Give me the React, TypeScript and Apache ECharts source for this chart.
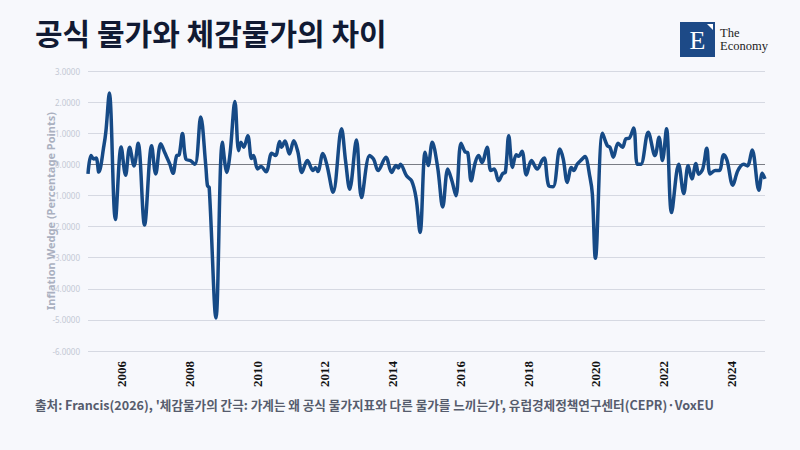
import React, { useEffect, useRef } from "react";
import * as echarts from "echarts";

const title = "공식 물가와 체감물가의 차이";
const source =
  "출처: Francis(2026), '체감물가의 간극: 가계는 왜 공식 물가지표와 다른 물가를 느끼는가', 유럽경제정책연구센터(CEPR)·VoxEU";
const yAxisName = "Inflation Wedge (Percentage Points)";

// decimal years at which the line was read
const times = [
  2005.0, 2005.09, 2005.17, 2005.24, 2005.32, 2005.47, 2005.53, 2005.63, 2005.81, 2005.98,
  2006.11, 2006.23, 2006.36, 2006.48, 2006.67, 2006.88, 2007.0, 2007.15, 2007.27, 2007.42,
  2007.51, 2007.62, 2007.69, 2007.79, 2007.89, 2008.02, 2008.16, 2008.33, 2008.48, 2008.53,
  2008.58, 2008.78, 2008.97, 2009.1, 2009.2, 2009.34, 2009.45, 2009.52, 2009.6, 2009.72,
  2009.83, 2009.89, 2010.01, 2010.11, 2010.26, 2010.43, 2010.54, 2010.66, 2010.72, 2010.82,
  2010.95, 2011.08, 2011.2, 2011.32, 2011.48, 2011.65, 2011.72, 2011.79, 2011.94, 2012.06,
  2012.24, 2012.49, 2012.61, 2012.73, 2012.93, 2013.08, 2013.32, 2013.44, 2013.57, 2013.8,
  2013.97, 2014.1, 2014.17, 2014.23, 2014.41, 2014.56, 2014.69, 2014.81, 2014.96, 2015.05,
  2015.17, 2015.33, 2015.48, 2015.63, 2015.75, 2015.87, 2016.02, 2016.14, 2016.22, 2016.32,
  2016.44, 2016.54, 2016.64, 2016.79, 2016.9, 2017.0, 2017.13, 2017.25, 2017.33, 2017.43,
  2017.54, 2017.65, 2017.72, 2017.82, 2017.95, 2018.1, 2018.27, 2018.42, 2018.48, 2018.61,
  2018.74, 2018.94, 2019.04, 2019.16, 2019.28, 2019.35, 2019.45, 2019.6, 2019.68, 2019.83,
  2019.9, 2019.99, 2020.2, 2020.34, 2020.42, 2020.52, 2020.66, 2020.79, 2020.89, 2020.99,
  2021.12, 2021.23, 2021.33, 2021.55, 2021.75, 2021.87, 2021.97, 2022.09, 2022.24, 2022.45,
  2022.6, 2022.73, 2022.84, 2022.96, 2023.04, 2023.16, 2023.28, 2023.38, 2023.53, 2023.65,
  2023.78, 2023.88, 2024.05, 2024.2, 2024.37, 2024.48, 2024.62, 2024.82, 2024.92, 2025.0,
];

const wedge = [
  -0.31, 0.28, 0.17, 0.2, -0.25, 0.6, 1.07, 2.29, -1.77, 0.56,
  -0.35, 0.55, -0.05, 0.68, -1.95, 0.6, -0.31, 0.66, 0.37, 0.0,
  -0.29, 0.28, 0.3, 0.99, 0.17, 0.12, 0.0, 1.52, -0.05, -0.69,
  -0.74, -4.94, 0.71, -0.26, 0.38, 2.02, 0.44, 0.71, 0.55, 0.92,
  0.19, 0.28, -0.15, -0.07, -0.24, 0.36, 0.28, 0.73, 0.55, 0.75,
  0.33, 0.76, 0.4, -0.26, 0.12, -0.2, -0.1, -0.23, 0.35, -0.03,
  -0.9, 1.14, 0.1, -0.8, 0.78, -1.07, 0.28, 0.16, -0.2, 0.23,
  -0.26, -0.04, -0.12, 0.0, -0.37, -0.53, -1.07, -2.19, 0.39, -0.04,
  0.71, -0.1, -1.37, -0.15, -0.53, -1.01, 0.68, 0.4, 0.37, -0.53,
  0.06, 0.28, 0.06, 0.55, -0.2, -0.15, -0.53, -0.3, -0.25, 0.92,
  -0.1, 0.31, 0.26, 0.42, -0.34, 0.12, -0.15, 0.14, 0.2, -0.69,
  -0.72, 0.49, 0.17, -0.58, -0.1, -0.2, 0.0, 0.17, 0.25, -0.42,
  -0.96, -3.02, 1.0, 0.6, 0.55, 0.23, 0.68, 0.55, 0.82, 0.84,
  1.17, 0.0, 0.0, 1.03, 0.28, 0.87, 0.12, 1.14, -1.55, 0.0,
  -0.94, -0.04, -0.47, 0.03, -0.32, -0.15, 0.52, -0.31, -0.2, -0.2,
  0.31, 0.12, -0.67, -0.2, 0.0, -0.05, 0.46, -0.83, -0.29, -0.47,
];

const yMin = -6;
const yMax = 3;
const xMin = 2005;
const xMax = 2025;

export default function App() {
  const ref = useRef<HTMLDivElement>(null);

  useEffect(() => {
    if (!ref.current) return;
    echarts.graphic.registerShape(
      "logoFold",
      echarts.graphic.extendPath("M0 0 L6 0 L6 6 Z", {})
    );
    const chart = echarts.init(ref.current, null, { renderer: "svg" });
    const data = times.map((t, i) => [t, wedge[i]]);
    chart.setOption({
      animation: false,
      backgroundColor: "#f7f8fc",
      grid: { left: 88, right: 35, top: 71, bottom: 99 },
      xAxis: {
        type: "value",
        min: xMin,
        max: xMax,
        interval: 1,
        axisLine: { show: false },
        axisTick: { show: false },
        splitLine: { show: false },
        axisLabel: {
          rotate: 90,
          margin: 10,
          color: "#111111",
          fontFamily: "Liberation Serif",
          fontWeight: "bold",
          fontSize: 13,
          formatter: (v: number) =>
            Math.round(v) % 2 === 0 && v > xMin && v < xMax ? String(Math.round(v)) : "",
        },
      },
      yAxis: {
        type: "value",
        min: yMin,
        max: yMax,
        interval: 1,
        name: yAxisName,
        nameLocation: "middle",
        nameGap: 32,
        nameMoveOverlap: false,
        nameTextStyle: {
          color: "#aab0c0",
          fontSize: 11,
          fontWeight: "bold",
          fontFamily: "Noto Sans",
        },
        axisLine: { show: false },
        axisTick: { show: false },
        axisLabel: {
          color: "#c3c8d4",
          fontSize: 8,
          margin: 8,
          fontFamily: "Noto Sans",
          formatter: (v: number) => v.toFixed(4),
        },
        splitLine: { lineStyle: { color: "#d6d9e2", width: 1 } },
      },
      series: [
        {
          type: "line",
          data,
          smooth: 0.35,
          showSymbol: false,
          lineStyle: { color: "#164a86", width: 3.5 },
          markLine: {
            silent: true,
            symbol: "none",
            label: { show: false },
            lineStyle: { color: "#7a7d85", width: 1, type: "solid" },
            data: [{ yAxis: 0 }],
            z: 1,
          },
          z: 3,
        },
      ],
      graphic: [
        {
          type: "text",
          left: 35,
          top: 17,
          style: {
            text: title,
            fill: "#111a33",
            fontSize: 30,
            fontWeight: "bold",
            fontFamily: "Noto Sans CJK KR",
          },
        },
        {
          type: "text",
          left: 35,
          top: 398,
          style: {
            text: source,
            fill: "#565c6d",
            fontSize: 12.6,
            fontWeight: "bold",
            fontFamily: "Noto Sans CJK KR",
          },
        },
        {
          type: "rect",
          shape: { x: 680, y: 22, width: 35, height: 35 },
          style: { fill: "#1d4a87" },
        },
        {
          type: "logoFold",
          x: 707,
          y: 24,
          style: { fill: "#ffffff" },
        },
        {
          type: "text",
          x: 697.5,
          y: 40,
          style: {
            text: "E",
            fill: "#ffffff",
            fontSize: 26,
            fontFamily: "Liberation Serif",
            align: "center",
            verticalAlign: "middle",
          },
        },
        {
          type: "text",
          x: 720,
          y: 33,
          style: {
            text: "The",
            fill: "#222222",
            fontSize: 12.5,
            lineHeight: 12,
            fontFamily: "Liberation Serif",
            verticalAlign: "middle",
          },
        },
        {
          type: "text",
          x: 720,
          y: 46,
          style: {
            text: "Economy",
            fill: "#222222",
            fontSize: 12.5,
            lineHeight: 12,
            fontFamily: "Liberation Serif",
            verticalAlign: "middle",
          },
        },
      ],
    });
    return () => chart.dispose();
  }, []);

  return (
    <div
      ref={ref}
      style={{ position: "fixed", left: 0, top: 0, width: 800, height: 450 }}
    />
  );
}
